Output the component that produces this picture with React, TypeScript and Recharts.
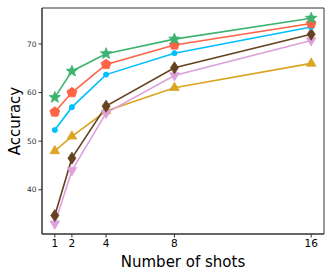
import React from "react";
import { LineChart, Line, XAxis, YAxis, ReferenceArea } from "recharts";

const shots = [1, 2, 4, 8, 16];
const starSeries = [59, 64.4, 68, 71, 75.3];
const pentagonSeries = [56, 60, 65.8, 69.8, 74.2];
const circleSeries = [52.3, 57, 63.7, 68.1, 73.5];
const diamondSeries = [34.7, 46.5, 57.2, 65.1, 72];
const triDownSeries = [33, 44, 55.8, 63.5, 70.7];
const triUpSeries = [48, 51, 56.2, 61, 66];
const yTicks = [40, 50, 60, 70];

const data = shots.map((s, i) => ({
  shots: s,
  star: starSeries[i],
  pentagon: pentagonSeries[i],
  circle: circleSeries[i],
  diamond: diamondSeries[i],
  triDown: triDownSeries[i],
  triUp: triUpSeries[i],
}));

const FONT = "DejaVu Sans, sans-serif";
const X_DOMAIN: [number, number] = [0.25, 16.75];
const Y_DOMAIN: [number, number] = [30.9, 77.4];

const poly = (cx: number, cy: number, n: number, r: number, rot: number, inner?: number) => {
  const pts: string[] = [];
  const count = inner ? n * 2 : n;
  for (let k = 0; k < count; k++) {
    const rad = inner && k % 2 === 1 ? inner : r;
    const a = rot + (k * 2 * Math.PI) / count;
    pts.push(`${cx + rad * Math.cos(a)},${cy + rad * Math.sin(a)}`);
  }
  return pts.join(" ");
};

const makeDot = (kind: string, color: string) => (props: any) => {
  const { cx, cy, index } = props;
  if (cx == null || cy == null) return <g key={index} />;
  const up = -Math.PI / 2;
  let shape;
  switch (kind) {
    case "star":
      shape = <polygon points={poly(cx, cy, 5, 6, up, 2.6)} />;
      break;
    case "pentagon":
      shape = <polygon points={poly(cx, cy, 5, 5.2, up)} />;
      break;
    case "circle":
      shape = <circle cx={cx} cy={cy} r={2.6} />;
      break;
    case "diamond":
      shape = <polygon points={`${cx},${cy - 6} ${cx + 4},${cy} ${cx},${cy + 6} ${cx - 4},${cy}`} />;
      break;
    case "triDown":
      shape = <polygon points={poly(cx, cy, 3, 5.5, Math.PI / 2)} />;
      break;
    default:
      shape = <polygon points={poly(cx, cy, 3, 5.5, up)} />;
  }
  return (
    <g key={index} fill={color} stroke={color} strokeWidth={0.8}>
      {shape}
    </g>
  );
};

const series = [
  { key: "triUp", color: "#daa520", kind: "triUp" },
  { key: "triDown", color: "#dda0dd", kind: "triDown" },
  { key: "diamond", color: "#654321", kind: "diamond" },
  { key: "circle", color: "#00bfff", kind: "circle" },
  { key: "pentagon", color: "#ff6347", kind: "pentagon" },
  { key: "star", color: "#3cb371", kind: "star" },
];

export default function App() {
  return (
    <div style={{ position: "absolute", left: 0, top: 0, width: 333, height: 278, background: "#fff" }}>
      <LineChart width={333} height={278} data={data} margin={{ top: 8, right: 9, left: 0, bottom: 0 }}>
        <XAxis
          dataKey="shots"
          type="number"
          domain={X_DOMAIN}
          ticks={shots}
          allowDataOverflow
          height={44}
          tick={{ fontSize: 10.5, fill: "#000", fontFamily: FONT }}
          tickLine={{ stroke: "#333" }}
          tickSize={3.5}
          axisLine={{ stroke: "#333" }}
          label={{ value: "Number of shots", position: "insideBottom", offset: 11, fontSize: 15, fill: "#000", fontFamily: FONT }}
        />
        <YAxis
          type="number"
          domain={Y_DOMAIN}
          ticks={yTicks}
          allowDataOverflow
          width={42}
          tick={{ fontSize: 7.5, fill: "#333", fontFamily: FONT }}
          tickLine={{ stroke: "#333" }}
          tickSize={3.5}
          axisLine={{ stroke: "#333" }}
          label={{ value: "Accuracy", angle: -90, position: "center", dx: -6, fontSize: 15, fill: "#000", fontFamily: FONT }}
        />
        <ReferenceArea
          x1={X_DOMAIN[0]}
          x2={X_DOMAIN[1]}
          y1={Y_DOMAIN[0]}
          y2={Y_DOMAIN[1]}
          fill="none"
          stroke="#333"
          strokeWidth={1}
          ifOverflow="visible"
        />
        {series.map((s) => (
          <Line
            key={s.key}
            dataKey={s.key}
            stroke={s.color}
            strokeWidth={1.6}
            dot={makeDot(s.kind, s.color)}
            activeDot={false}
            isAnimationActive={false}
          />
        ))}
      </LineChart>
    </div>
  );
}
